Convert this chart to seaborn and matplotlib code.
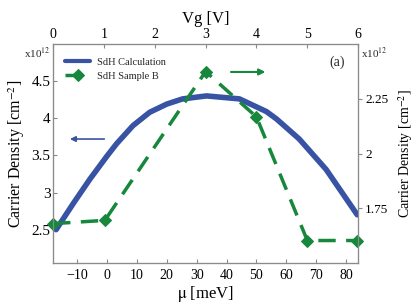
import matplotlib
matplotlib.use("Agg")
import matplotlib.pyplot as plt
import seaborn as sns
import pandas as pd

# SdH calculation (left axis, x1e12 cm^-2) vs chemical potential
mu_calc = [-17, -11.3, -5.7, 0, 3.3, 8.7, 14.3, 20, 25.3, 33.3, 44.3, 53.3, 56.7, 64.3, 73.3, 83.7]
n_calc = [2.50, 2.85, 3.18, 3.49, 3.66, 3.90, 4.08, 4.19, 4.26, 4.30, 4.26, 4.09, 3.99, 3.72, 3.31, 2.70]

# SdH sample B (right axis, x1e12 cm^-2)
mu_samp = [-18, -0.7, 33, 50, 67, 83.7]
n_samp = [1.68, 1.695, 2.374, 2.167, 1.603, 1.603]

vg_ticks = [0, 1, 2, 3, 4, 5, 6]
mu_ticks = [-10, 0, 10, 20, 30, 40, 50, 60, 70, 80]
left_ticks = [2.5, 3, 3.5, 4, 4.5]
left_labels = ["2.5", "3", "3.5", "4", "4.5"]
right_ticks = [1.75, 2, 2.25]
right_labels = ["1.75", "2", "2.25"]

sns.set_style("ticks")
plt.rcParams['font.family'] = ['Liberation Serif', 'DejaVu Serif']
plt.rcParams['mathtext.fontset'] = 'stix'

blue = '#3953a4'
green = '#17873c'
spine_col = '#8a8a8a'

fig = plt.figure(figsize=(4.15, 3.07), dpi=100)
ax = fig.add_axes([0.128, 0.143, 0.735, 0.714])
ax2 = ax.twinx()
ax3 = ax.twiny()

df_c = pd.DataFrame({'mu': mu_calc, 'n': n_calc})
df_s = pd.DataFrame({'mu': mu_samp, 'n': n_samp})

sns.lineplot(data=df_c, x='mu', y='n', ax=ax, color=blue, lw=4, sort=False,
             label='SdH Calculation', legend=False)
sns.lineplot(data=df_s, x='mu', y='n', ax=ax2, color=green, lw=2.5, sort=False,
             marker='D', markersize=6, markeredgecolor=green, dashes=False,
             label='SdH Sample B', legend=False, clip_on=False)
ax2.lines[0].set_dashes((5, 3))

ax.set_xlim(-18, 84)
ax.set_ylim(2.05, 5.0)
ax2.set_ylim(1.5, 2.5)
ax3.set_xlim(0, 6)

ax.set_xticks(mu_ticks)
ax.set_yticks(left_ticks)
ax.set_yticklabels(left_labels)
ax2.set_yticks(right_ticks)
ax2.set_yticklabels(right_labels)
ax3.set_xticks(vg_ticks)

ax.set_xlabel(r'$\mathrm{\mu}$ [meV]', fontsize=12, labelpad=2, color='black')
ax.set_ylabel(r'Carrier Density [cm$^{-2}$]', fontsize=11.5, labelpad=3, color='black')
ax2.set_ylabel(r'Carrier Density [cm$^{-2}$]', fontsize=10, labelpad=6, color='black')
ax3.set_xlabel('Vg [V]', fontsize=12, labelpad=4, color='black')

for a in (ax, ax2, ax3):
    for s in a.spines.values():
        s.set_color(spine_col)
        s.set_linewidth(0.8)
    a.tick_params(color=spine_col, labelcolor='black', length=3, width=0.8, pad=2)
ax.tick_params(axis='x', direction='in', labelsize=10, pad=4)
ax.tick_params(axis='y', direction='in', labelsize=11)
ax3.tick_params(axis='x', direction='in', labelsize=10)
ax2.tick_params(axis='y', direction='out', labelsize=9.5)

ax.text(-0.01, 0.99, r'x10$^{12}$', transform=ax.transAxes, ha='right', va='top', fontsize=8)
ax2.text(1.01, 0.99, r'x10$^{12}$', transform=ax.transAxes, ha='left', va='top', fontsize=8)
ax.text(0.93, 0.918, '(a)', transform=ax.transAxes, ha='center', va='center', fontsize=10)

ax.annotate('', xy=(0.046, 0.566), xytext=(0.177, 0.566), xycoords='axes fraction',
            arrowprops=dict(arrowstyle='-|>', color=blue, lw=1.2, mutation_scale=8))
ax.annotate('', xy=(0.705, 0.872), xytext=(0.574, 0.872), xycoords='axes fraction',
            arrowprops=dict(arrowstyle='-|>', color=green, lw=1.5, mutation_scale=9))

h1, l1 = ax.get_legend_handles_labels()
h2, l2 = ax2.get_legend_handles_labels()
leg = ax3.legend(h1 + h2, l1 + l2, loc='upper left', bbox_to_anchor=(0.02, 0.965),
                 frameon=False, fontsize=7.5, handlelength=2.4, handletextpad=0.6,
                 labelspacing=0.45, borderaxespad=0.2)
leg.get_lines()[0].set_linewidth(3)

fig.savefig('out.png', dpi=100)
